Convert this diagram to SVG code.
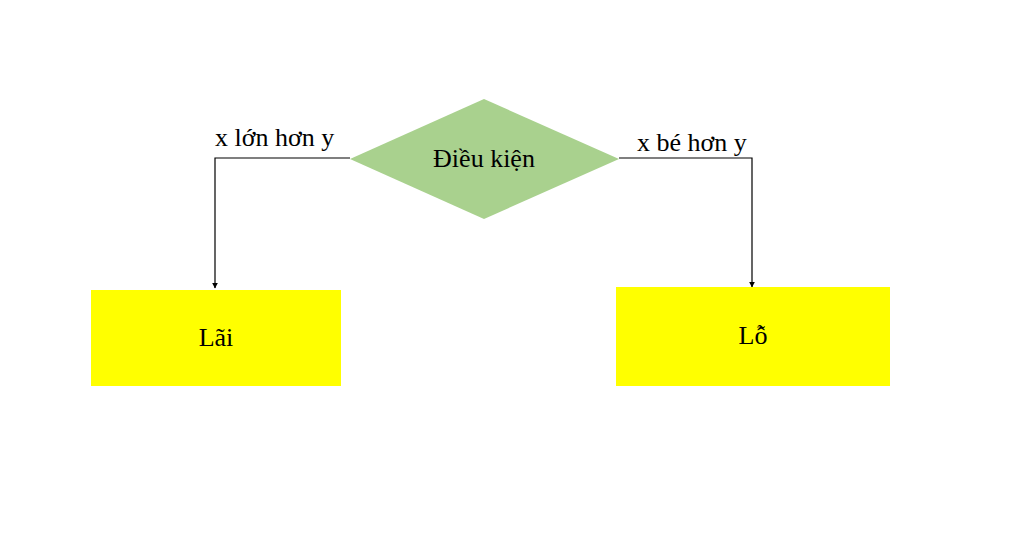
<svg xmlns="http://www.w3.org/2000/svg" width="1024" height="533" viewBox="0 0 1024 533">
<defs>
<style>
text{font-family:"Liberation Serif","Times New Roman",serif;font-size:26px;fill:#000}
.box{fill:#FFFF00}
.conn{fill:none;stroke:#000;stroke-width:1.2}
</style>
<marker id="arr" viewBox="0 0 10 10" refX="9" refY="5" markerWidth="6" markerHeight="6" orient="auto" markerUnits="userSpaceOnUse">
<path d="M0,0L10,5L0,10z" fill="#000"/>
</marker>
</defs>
<rect width="1024" height="533" fill="#fff"/>
<g id="connectors">
<polyline class="conn" points="350,158 215,158 215,288" marker-end="url(#arr)"/>
<polyline class="conn" points="619,158 752,158 752,287" marker-end="url(#arr)"/>
</g>
<g id="label-left"><text x="215" y="146">x lớn hơn y</text></g>
<g id="label-right"><text x="637" y="151">x bé hơn y</text></g>
<g id="dieu-kien">
<polygon points="484,99 619,159 484,219 350,159" fill="#A9D18E"/>
<text x="484" y="167" text-anchor="middle">Điều kiện</text>
</g>
<g id="lai">
<rect class="box" x="91" y="290" width="250" height="96"/>
<text x="216" y="346" text-anchor="middle">Lãi</text>
</g>
<g id="lo">
<rect class="box" x="616" y="287" width="274" height="99"/>
<text x="753" y="344" text-anchor="middle">Lỗ</text>
</g>
</svg>
